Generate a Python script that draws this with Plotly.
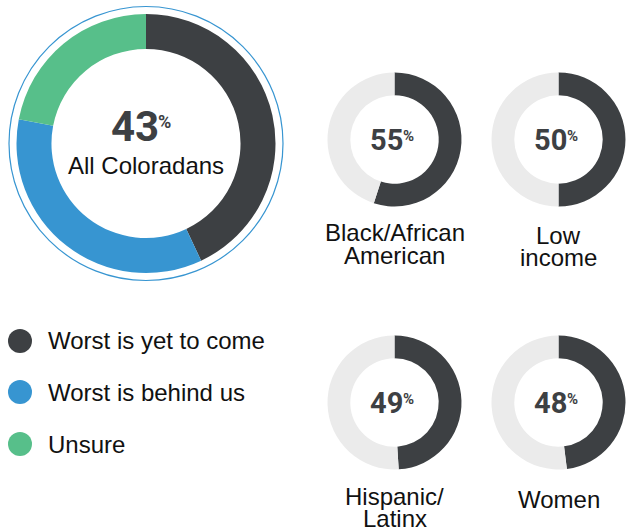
import plotly.graph_objects as go

W, H = 626, 529

# Data
main_labels = ["Worst is yet to come", "Worst is behind us", "Unsure"]
main_values = [43, 35, 22]
main_title = "All Coloradans"

groups = [["Black/African", "American"], ["Low", "income"], ["Hispanic/", "Latinx"], ["Women"]]
group_values = [55, 50, 49, 48]

DARK = "#3d4043"
BLUE = "#3795d1"
GREEN = "#57bf8a"
LIGHT = "#ebebeb"
TXT = "#111111"

def dom(cx, cy, r):
    return dict(x=[(cx - r) / W, (cx + r) / W],
                y=[(H - cy - r) / H, (H - cy + r) / H])

def ann(fig, x, y, text, size, family="Liberation Sans", color=TXT, xanchor="center"):
    fig.add_annotation(x=x / W, y=(H - y) / H, xref="paper", yref="paper",
                       text=text, showarrow=False, xanchor=xanchor, yanchor="middle",
                       font=dict(family=family, size=size, color=color))

fig = go.Figure()

# main donut
fig.add_trace(go.Pie(
    values=main_values, labels=main_labels, sort=False, direction="clockwise",
    rotation=0, hole=0.73, marker=dict(colors=[DARK, BLUE, GREEN], line=dict(width=0)),
    textinfo="none", hoverinfo="label+value", showlegend=False,
    domain=dom(146, 143.5, 129.5)))

centers = [(394.5, 139.5), (558.5, 139.5), (394.5, 402.5), (558.5, 402.5)]
label_ys = [[232.5, 255], [235.5, 257.5], [496, 518], [499]]
for (cx, cy), g, v, lys in zip(centers, groups, group_values, label_ys):
    fig.add_trace(go.Pie(
        values=[v, 100 - v], labels=["Worst is yet to come", "Other"], sort=False,
        direction="clockwise", rotation=0, hole=0.66,
        marker=dict(colors=[DARK, LIGHT], line=dict(width=0)),
        textinfo="none", hoverinfo="label+value", showlegend=False,
        domain=dom(cx, cy, 67)))
    ann(fig, cx - 8, cy + 0.5, f"<b>{v}</b>", 29, family="Roboto", color=DARK)
    ann(fig, cx + 6.5, cy - 3.5, "<b>%</b>", 15, family="Roboto", color=DARK, xanchor="left")
    for line, ly in zip(g, lys):
        ann(fig, cx, ly, line, 24)

# main center text
ann(fig, 135, 126.5, f"<b>{main_values[0]}</b>", 42, family="Roboto", color=DARK)
ann(fig, 156, 121.5, "<b>%</b>", 18, family="Roboto", color=DARK, xanchor="left")
ann(fig, 146, 165.5, main_title, 24)

# outer thin ring
fig.add_shape(type="circle", xref="paper", yref="paper",
              x0=(146 - 137) / W, x1=(146 + 137) / W,
              y0=(H - 143.5 - 137) / H, y1=(H - 143.5 + 137) / H,
              line=dict(color=BLUE, width=1.2))

# legend
leg_y = [341, 392, 444]
fig.add_trace(go.Scatter(
    x=[20, 20, 20], y=leg_y, mode="markers",
    marker=dict(size=24, color=[DARK, BLUE, GREEN]),
    hoverinfo="skip", showlegend=False, cliponaxis=False))
for t, ly in zip(main_labels, leg_y):
    ann(fig, 46, ly, t, 24, xanchor="left")

fig.update_layout(
    width=W, height=H, margin=dict(l=0, r=0, t=0, b=0),
    paper_bgcolor="white", plot_bgcolor="white",
    xaxis=dict(range=[0, W], visible=False, fixedrange=True, domain=[0, 1]),
    yaxis=dict(range=[H, 0], visible=False, fixedrange=True, domain=[0, 1]),
)

fig.write_html("out.html", config={"displayModeBar": False},
               post_script="document.body.style.margin='0';document.body.style.overflow='hidden';")
